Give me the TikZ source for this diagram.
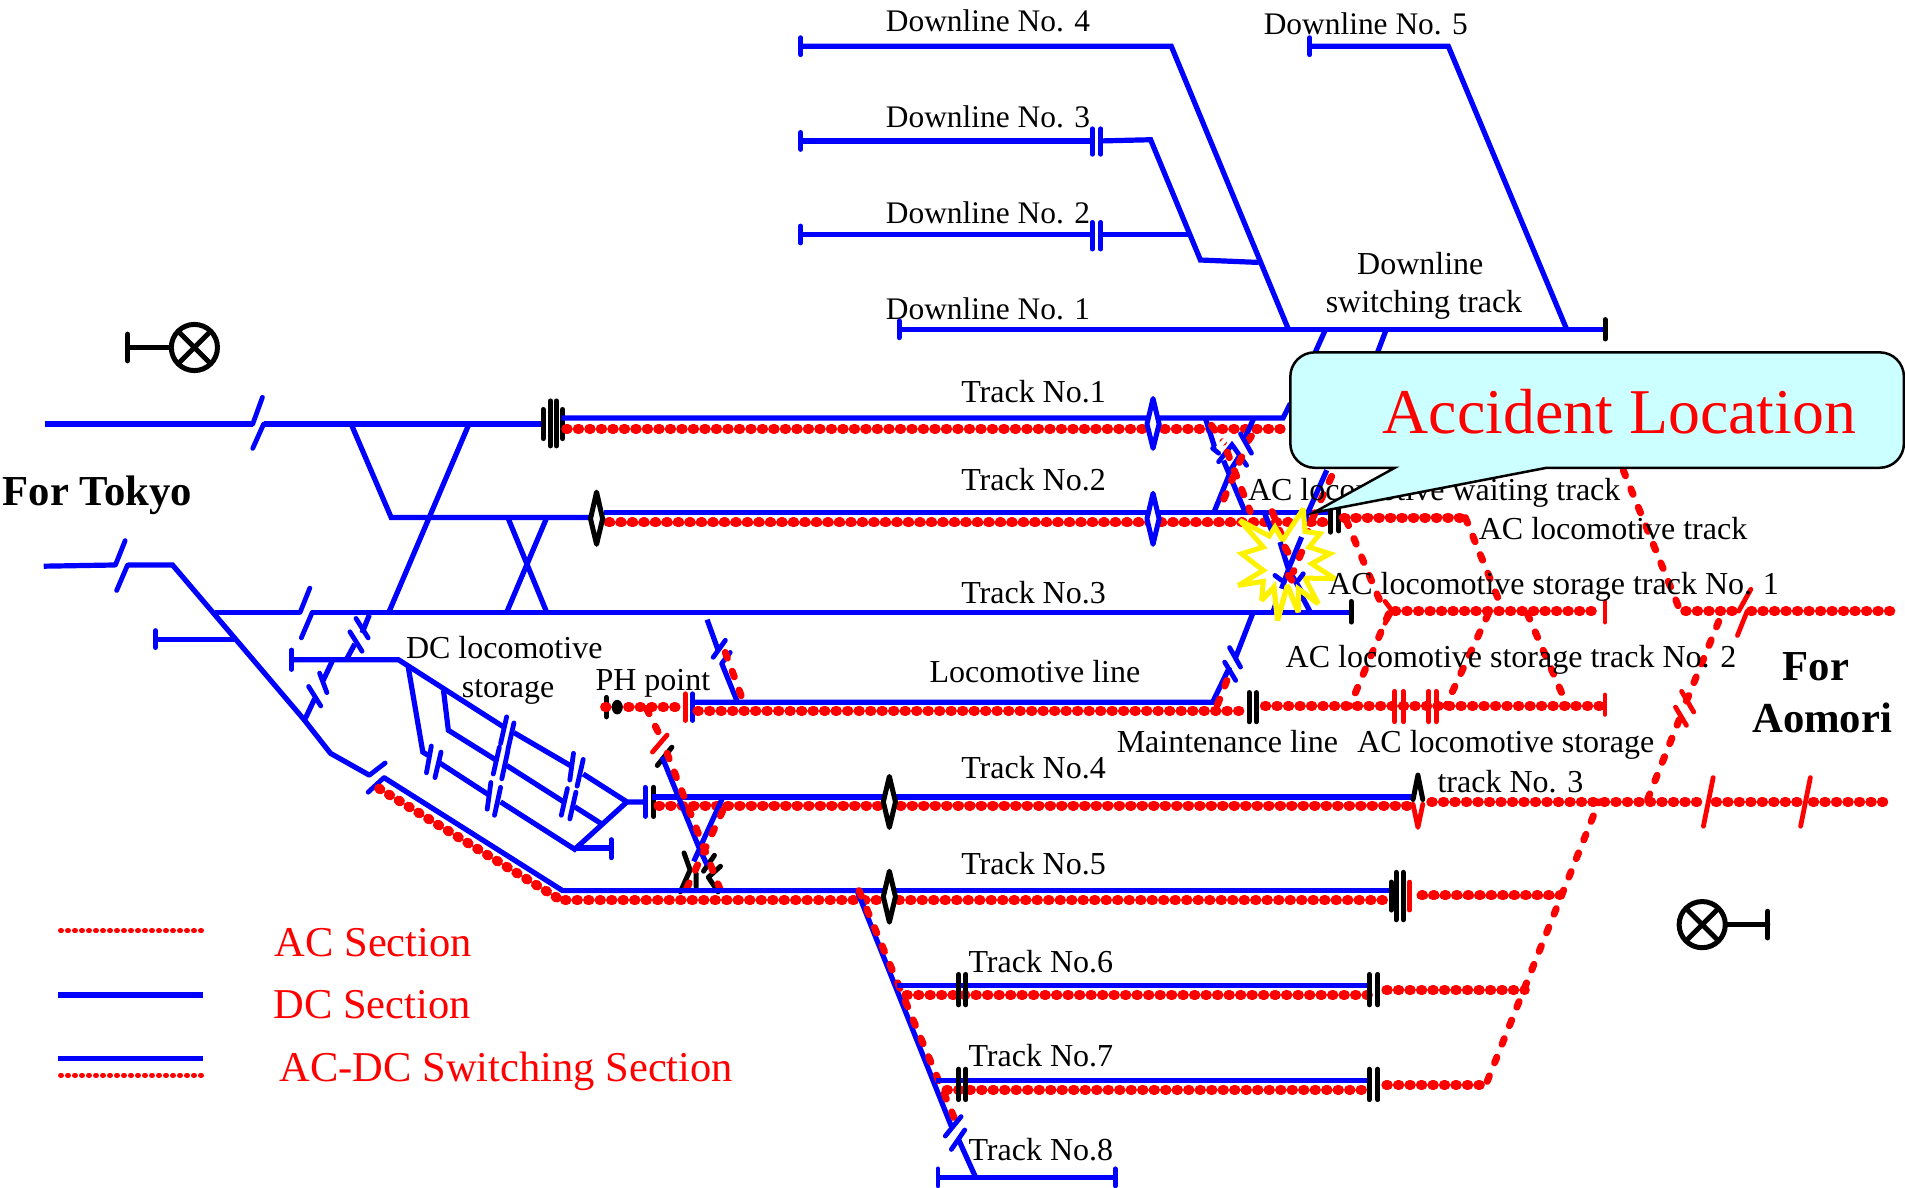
\documentclass[tikz,border=0pt]{standalone}
\usepackage{fontspec}
\setmainfont{Liberation Serif}
\definecolor{dcb}{RGB}{0,0,255}
\definecolor{acr}{RGB}{255,0,0}
\definecolor{callfill}{RGB}{204,255,255}
\tikzset{
 dc/.style={draw=dcb,line width=5.2pt,line cap=butt,line join=miter},
 dct/.style={draw=dcb,line width=4.8pt,line cap=round},
 acdot/.style={draw=acr,line width=10pt,line cap=round,dash pattern=on 1.5pt off 10pt},
 acdash/.style={draw=acr,line width=7pt,line cap=round,dash pattern=on 6pt off 14pt},
 act/.style={draw=acr,line width=4.8pt,line cap=round},
 blk/.style={draw=black,line width=5pt,line cap=round,line join=round},
 dia/.style={fill=white,line width=5pt,line join=round},
 lab/.style={inner sep=0pt,anchor=base west,font=\fontsize{32}{32}\selectfont},
 dln/.style={inner sep=0pt,anchor=base west,font=\fontsize{31.4}{32}\selectfont},
 big/.style={inner sep=0pt,anchor=base west,font=\fontsize{42.7}{42}\selectfont\bfseries},
 leg/.style={inner sep=0pt,anchor=base west,text=acr,font=\fontsize{42.5}{42}\selectfont},
}
\begin{document}
\begin{tikzpicture}[x=1.215pt,y=-1.215pt]
\useasboundingbox (0,0) rectangle (1567.9,977);
% upper downlines
\draw[dct] (659,31)--(659,45); \draw[dc] (659,38)--(964,38)--(1060,270);
\draw[dct] (659,109)--(659,123); \draw[dc] (659,116)--(899,116);
\draw[dct] (899,106)--(899,127) (906,106)--(906,127);
\draw[dc] (906,116)--(947,115)--(988,214)--(1036,216);
\draw[dct] (659,186)--(659,200); \draw[dc] (659,193)--(899,193);
\draw[dct] (899,183)--(899,205) (906,183)--(906,205);
\draw[dc] (906,193)--(978,193);
\draw[dct] (1078,31)--(1078,45); \draw[dc] (1078,38)--(1192,38)--(1289,270);
\draw[dct] (740,264)--(740,278); \draw[dc] (740,271)--(1321,271);
\draw[blk] (1321,263)--(1321,279);
\draw[dc] (1091,271)--(1078,300) (1141,271)--(1130,300);
% left side
\draw[dc] (37,349)--(208,349); \draw[dct] (208,349)--(216,327);
\draw[dct] (208,369)--(217,349); \draw[dc] (217,349)--(447,349);
\draw[dc] (289,349)--(322,426)--(485,426);
\draw[dc] (386,349)--(320,504);
\draw[dc] (418,426)--(450,504) (450,426)--(417,504);
\draw[dc] (36,466)--(95,465); \draw[dct] (95,465)--(103,445);
\draw[dct] (96,486)--(105,465); \draw[dc] (105,465)--(142,465)--(250,592)--(272,620)--(304,638);
\draw[dct] (304,638)--(317,628);
\draw[dct] (303,652)--(316,640); \draw[dc] (316,640)--(463,733)--(732,733);
\draw[acdot] (312,649)--(462,741);
\draw[dct] (128,519)--(128,533); \draw[dc] (128,526)--(193,526);
\draw[dc] (177,504)--(247,504); \draw[dct] (247,504)--(255,484);
\draw[dct] (248,525)--(257,504); \draw[dc] (257,504)--(1112,504);
\draw[blk] (1112,495)--(1112,512);
% stubs from line 3 to storage
\draw[dc] (304,506)--(298,521); \draw[dct] (293,509)--(303,525) (288,520)--(298,536);
\draw[dc] (292,530)--(285,543);
\draw[dc] (274,543)--(266,560); \draw[dct] (263,554)--(269,570) (254,565)--(264,581);
\draw[dc] (259,575)--(251,592);
% DC storage
\draw[dct] (240,535)--(240,551); \draw[dc] (240,543)--(328,543)--(414,598);
\draw[dct] (417,590)--(412,612) (423,595)--(418,617);
\draw[dc] (423,603)--(471,631);
\draw[dct] (472,620)--(469,642) (480,625)--(475,647);
\draw[dc] (480,637)--(516,660)--(531,660);
\draw[dc] (336,549)--(348,619)--(353,622);
\draw[dct] (355,614)--(351,636) (363,619)--(358,640);
\draw[dc] (362,628)--(402,654);
\draw[dct] (404,644)--(401,666) (412,648)--(407,671);
\draw[dc] (412,660)--(473,699)--(516,660);
\draw[dc] (473,698)--(503,698); \draw[dct] (503,691)--(503,706);
\draw[dc] (365,568)--(369,601)--(409,626);
\draw[dct] (411,615)--(406,637) (418,618)--(413,641);
\draw[dc] (417,630)--(464,660);
\draw[dct] (467,649)--(462,671) (474,652)--(469,674);
\draw[dc] (473,664)--(495,678);
% track 1
\draw[blk] (447,337)--(447,361) (453,330)--(453,367) (458,330)--(458,367) (463,337)--(463,361);
\draw[dc] (462,344)--(1056,344)--(1062,332);
\draw[acdot] (466,353)--(1062,353);
% track 2
\draw[dc] (497,422)--(1093,422);
\draw[acdot] (501,430)--(1092,430);
\draw[blk] (1095,418)--(1095,438) (1102,415)--(1102,437);
% crossover 1-2
\draw[dc] (992,344)--(1000,369) (1032,344)--(1024,362);
\draw[acdash] (997,350)--(1007,364) (1030,359)--(1025,366);
\draw[dct] (1003,380)--(1014,366)--(1026,383);
\draw[dc] (999,422)--(1014,385)--(1021,374) (1025,422)--(1007,379);
\draw[acdash] (1010,372)--(1029,421) (1022,376)--(1003,421);
\draw[white,line width=4.5pt] (1002,369)--(1012,358)--(1027,373);
\draw[dct] (1021,357)--(1030,373);
\draw[dct] (998,369)--(1003,373);
% crossover 2-3 under star
\draw[dc] (1041,423)--(1060,469)--(1078,503) (1092,387)--(1076,423)--(1064,455)--(1048,503);
\draw[acdash] (1047,421)--(1064,464) (1096,392)--(1081,425)--(1066,469);
% explosion
\begin{scope}[shift={(1012.3,405)},x=0.3333pt,y=-0.3333pt]
\draw[yellow,line width=5pt,fill=white,line join=miter,miter limit=3] (30,85)--(118,132)--(135,105)--(158,145)--(220,50)--(225,118)--(270,125)--(238,165)--(300,185)--(245,215)--(315,260)--(225,258)--(265,335)--(205,290)--(205,360)--(172,280)--(143,385)--(132,285)--(95,325)--(100,268)--(25,280)--(100,235)--(35,185)--(100,165)--cycle;
\draw[dc] (150,150)--(175,230)--(215,300) (215,135)--(180,220)--(155,290);
\draw[dct] (135,250)--(155,265) (220,245)--(205,265);
\draw[acdash] (165,165)--(185,200) (215,180)--(190,240) (175,250)--(190,270);
\draw[yellow,line width=5pt,line join=miter,miter limit=3] (265,335)--(205,290)--(205,360)--(172,280)--(143,385)--(132,285)--(95,325);
\end{scope}
% right of track 2
\draw[acdot] (1106,426)--(1206,426);
\draw[acdash] (1206,426)--(1236,500) (1108,428)--(1138,500);
\draw[act] (1140,495)--(1146,503)--(1140,513);
\draw[acdot] (1148,503)--(1318,503);
\draw[act] (1321,495)--(1321,512);
\draw[acdash] (1143,505)--(1111,581) (1225,505)--(1190,581) (1257,505)--(1290,581);
% locomotive line
\draw[blk] (499,574)--(499,590);
\draw[acdot] (498,582)--(562,582);
\draw[fill=black,draw=none] (508,582) circle[x radius=4.5,y radius=6];
\draw[act] (564,571)--(564,593);
\draw[dct] (570,571)--(570,593);
\draw[dc] (570,578)--(998,578)--(1012,549);
\draw[acdot] (574,585)--(1025,585);
\draw[dc] (582,510)--(591,535); \draw[dct] (587,541)--(597,527) (601,537)--(594,546);
\draw[dc] (594,546)--(607,578);
\draw[acdash] (597,537)--(612,578);
\draw[dct] (1008,545)--(1017,560) (1012,533)--(1021,549);
\draw[dc] (1017,541)--(1031,505);
\draw[acdash] (1002,580)--(1013,552);
\draw[blk] (1028,570)--(1028,594) (1034,570)--(1034,594);
\draw[acdot] (1041,581)--(1318,581);
\draw[act] (1148,569)--(1148,594) (1155,569)--(1155,594) (1176,569)--(1176,594) (1182,569)--(1182,594) (1321,572)--(1321,588);
% track 4
\draw[dct] (531,648)--(531,672);
\draw[blk] (538,648)--(538,672);
\draw[dc] (537,656)--(1163,656);
\draw[acdot] (542,663)--(1160,663);
\draw[acdot] (1178,660)--(1400,660) (1412,660)--(1480,660) (1492,660)--(1555,660);
\draw[act] (1410,640)--(1402,680) (1490,640)--(1482,680);
% PH dashed to track 5
\draw[acdash] (532,583)--(546,611);
\draw[act] (537,619)--(549,605);
\draw[blk] (541,630)--(553,615);
% black zigzag
\draw[blk] (563,702)--(568,716)--(560,734) (573,719)--(573,730) (588,704)--(579,717) (593,713)--(583,722)--(591,734);
\draw[dc] (545,623)--(575,697)--(582,712) (595,656)--(571,709);
\draw[acdash] (549,620)--(595,738) (595,667)--(562,738);
% track 5
\draw[dc] (463,733)--(1145,733);
\draw[acdot] (465,741)--(1143,741);
\draw[blk] (1145,726)--(1145,749) (1149,718)--(1149,757) (1155,718)--(1155,757);
\draw[act] (1160,726)--(1160,749);
\draw[acdot] (1170,737)--(1284,737);
% diagonal down to track 8
\draw[dc] (705,732)--(783,927);
\draw[acdash] (707,733)--(787,924);
\draw[dct] (778,935)--(791,919) (783,946)--(794,930);
\draw[dc] (789,938)--(803,969);
\draw[dct] (772,962)--(772,976) (918,962)--(918,976);
\draw[dc] (772,969)--(918,969);
% track 6, 7
\draw[dc] (738,811)--(1128,811); \draw[acdot] (746,819)--(1126,819);
\draw[dc] (770,889)--(1128,889); \draw[acdot] (779,897)--(1126,897);
\draw[blk] (789,802)--(789,827) (795,802)--(795,827) (1127,802)--(1127,827) (1134,802)--(1134,827);
\draw[blk] (789,880)--(789,905) (795,880)--(795,905) (1127,880)--(1127,905) (1134,880)--(1134,905);
\draw[acdot] (1141,815)--(1255,815);
\draw[acdot] (1141,893)--(1222,893);
% right dashed
\draw[acdash] (1224,890)--(1316,660);
\draw[acdash] (1356,658)--(1383,590) (1388,577)--(1418,503);
\draw[act] (1384,569)--(1394,586) (1379,582)--(1388,597);
\draw[acdash] (1336,387)--(1383,503);
\draw[acdot] (1387,503)--(1428,503) (1441,503)--(1558,503);
\draw[act] (1431,503)--(1441,485) (1430,523)--(1438,503);
% diamonds
\draw[dia,draw=dcb] (949,328)--(954,349)--(949,369)--(944,349)--cycle;
\draw[dia,draw=dcb] (949,406)--(954,427)--(949,448)--(944,427)--cycle;
\draw[dia,draw=black] (491,405)--(496,427)--(491,448)--(486,427)--cycle;
\draw[dia,draw=black] (732,639)--(737,660)--(732,681)--(727,660)--cycle;
\draw[dia,draw=black] (732,717)--(737,738)--(732,759)--(727,738)--cycle;
\draw[dia,draw=none] (1167,638)--(1172,660)--(1167,681)--(1162,660)--cycle;
\draw[blk] (1163,658)--(1167,638)--(1171,658);
\draw[act,line join=round] (1163,662)--(1167,681)--(1171,662);
% lamps
\draw[blk] (105,275)--(105,297) (105,286)--(141,286);
\draw[black,line width=5pt] (160,286) circle[x radius=19,y radius=19];
\draw[blk] (147,273)--(173,299) (173,273)--(147,299);
\draw[blk] (1455,750)--(1455,772) (1420,761)--(1455,761);
\draw[black,line width=5pt] (1401,761) circle[x radius=19,y radius=19];
\draw[blk] (1388,748)--(1414,774) (1414,748)--(1388,774);
% labels
\node[dln] (d4) at (729,26) {Downline No. 4};
\node[dln] (d5) at (1040,28) {Downline No. 5};
\node[dln] (d3) at (729,105) {Downline No. 3};
\node[dln] (d2) at (729,184) {Downline No. 2};
\node[dln] (d1) at (729,263) {Downline No. 1};
\node[lab,anchor=base] (sw1) at (1169,226) {Downline};
\node[lab,anchor=base] (sw2) at (1172,257) {switching track};
\node[lab] (t1) at (791,331) {Track No.1};
\node[lab] (t2) at (791,404) {Track No.2};
\node[lab] (t3) at (791,497) {Track No.3};
\node[lab] (t4) at (791,641) {Track No.4};
\node[lab] (t5) at (791,720) {Track No.5};
\node[lab] (t6) at (797,800) {Track No.6};
\node[lab] (t7) at (797,878) {Track No.7};
\node[lab] (t8) at (797,955) {Track No.8};
\node[lab] (wait) at (1027,412) {AC locomotive waiting track};
\node[lab] (ltr) at (1217,444) {AC locomotive track};
\node[lab] (s1) at (1093,489) {AC locomotive storage track No. 1};
\node[lab] (s2) at (1058,549) {AC locomotive storage track No. 2};
\node[lab] (dcs1) at (334,542) {DC locomotive};
\node[lab] (dcs2) at (380,574) {storage};
\node[lab] (ph) at (490,568) {PH point};
\node[lab] (loco) at (765,562) {Locomotive line};
\node[lab] (maint) at (919,619) {Maintenance line};
\node[lab] (s3a) at (1117,619) {AC locomotive storage};
\node[lab] (s3b) at (1183,652) {track No. 3};
\node[big] (tokyo) at (2,416) {For Tokyo};
\node[big] (for) at (1467,560) {For};
\node[big] (aomori) at (1442,603) {Aomori};
% legend
\draw[acr,line width=5.5pt,line cap=round,dash pattern=on 0.5pt off 6.5pt] (50,766)--(166,766);
\draw[dc] (48,819)--(167,819);
\draw[dc] (48,871)--(167,871);
\draw[acr,line width=5.5pt,line cap=round,dash pattern=on 0.5pt off 6.5pt] (50,885)--(166,885);
\node[leg] (lac) at (226,787) {AC Section};
\node[leg] (ldc) at (225,838) {DC Section};
\node[leg] (lsw) at (230,890) {AC-DC Switching Section};
% callout
\draw[black,line width=2.5pt,fill=callfill,line join=miter]
 (1081,422)--(1148,385)--(1082,385) arc[start angle=90,end angle=180,radius=20] --(1062,310) arc[start angle=180,end angle=270,radius=20]
 --(1547,290) arc[start angle=270,end angle=360,radius=20]--(1567,365) arc[start angle=0,end angle=90,radius=20]--(1273,385)--cycle;
\node[inner sep=0pt,anchor=base west,text=acr,font=\fontsize{63.8}{64}\selectfont] (acc) at (1138,357) {Accident Location};
\end{tikzpicture}
\end{document}
